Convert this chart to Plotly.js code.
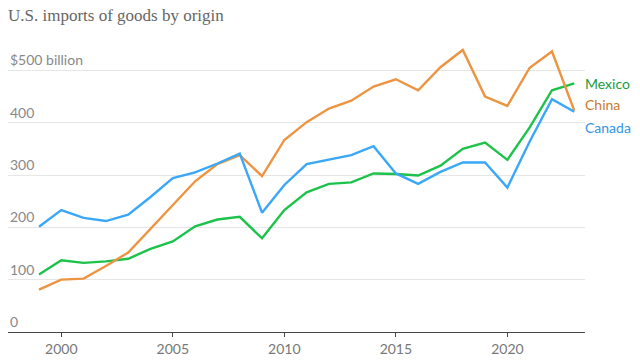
<!DOCTYPE html>
<html>
<head>
<meta charset="utf-8">
<script src="https://cdn.plot.ly/plotly-3.0.1.min.js"></script>
<style>html,body{margin:0;padding:0;background:#fff;}#chart{width:640px;height:364px;}</style>
</head>
<body>
<div id="chart"></div>
<script>
// ---- data ----
const years = [1999,2000,2001,2002,2003,2004,2005,2006,2007,2008,2009,2010,2011,2012,2013,2014,2015,2016,2017,2018,2019,2020,2021,2022,2023];
const mexico = [110,137,132,135,140,159,173,202,215,220,179,233,267,283,286,303,302,299,318,350,362,329,391,462,475];
const china  = [81,100,102,126,152,197,243,288,321,338,298,367,401,427,442,469,483,462,506,539,450,432,505,536,423];
const canada = [201,233,218,212,224,258,294,305,322,341,228,281,321,330,338,355,303,283,306,324,324,276,364,445,421];
const seriesNames = ["Mexico","China","Canada"];
const xTickVals = [2000,2005,2010,2015,2020];
const xTickText = ["2000","2005","2010","2015","2020"];
const yTickVals = [0,100,200,300,400,500];
const yTickText = ["0","100","200","300","400","$500 billion"];

// ---- styles ----
const lineColors = ["#1dc24b","#ec9441","#3aa7f7"];
const labelColors = ["#1a9c3c","#c87a2c","#2f96e4"];
const labelY = [475,434,391]; // label placement (avoid overlap)
const seriesData = [mexico, china, canada];

const traces = seriesData.map((vals, i) => ({
  x: years, y: vals, type: "scatter", mode: "lines", name: seriesNames[i],
  line: {color: lineColors[i], width: 2.4}, hoverinfo: "skip"
}));

const annotations = [];
yTickVals.forEach((v, i) => {
  annotations.push({
    xref: "paper", x: 0, xanchor: "left", yref: "y", y: v, yanchor: "bottom",
    yshift: 0, text: yTickText[i], showarrow: false,
    font: {family: "Lato, sans-serif", size: 14, color: "#888"}
  });
});
seriesNames.forEach((n, i) => {
  annotations.push({
    xref: "paper", x: 1, xanchor: "left", xshift: -2, yref: "y", y: labelY[i], yanchor: "middle",
    text: n, showarrow: false,
    font: {family: "Lato, sans-serif", size: 14, color: labelColors[i]}
  });
});

const layout = {
  width: 640, height: 364,
  margin: {l: 8, r: 55, t: 40, b: 32},
  paper_bgcolor: "#fff", plot_bgcolor: "#fff",
  showlegend: false,
  title: {
    text: "U.S. imports of goods by origin",
    x: 8/640, xanchor: "left", xref: "container",
    y: 1 - 15/364, yanchor: "middle", yref: "container",
    font: {family: "Liberation Serif, serif", size: 17, color: "#666"}
  },
  xaxis: {
    range: [1997.61, 2023.48], tickvals: xTickVals, ticktext: xTickText,
    ticks: "outside", ticklen: 4, tickwidth: 1, tickcolor: "#444",
    showline: true, linecolor: "#444", linewidth: 1,
    showgrid: false, zeroline: false,
    tickfont: {family: "Lato, sans-serif", size: 14, color: "#777"}
  },
  yaxis: {
    range: [0, 558], tickvals: yTickVals, showticklabels: false,
    showgrid: true, gridcolor: "#e6e6e6", gridwidth: 1,
    zeroline: false, showline: false, ticks: ""
  },
  annotations: annotations
};

Plotly.newPlot("chart", traces, layout, {staticPlot: true, displayModeBar: false});
</script>
</body>
</html>
